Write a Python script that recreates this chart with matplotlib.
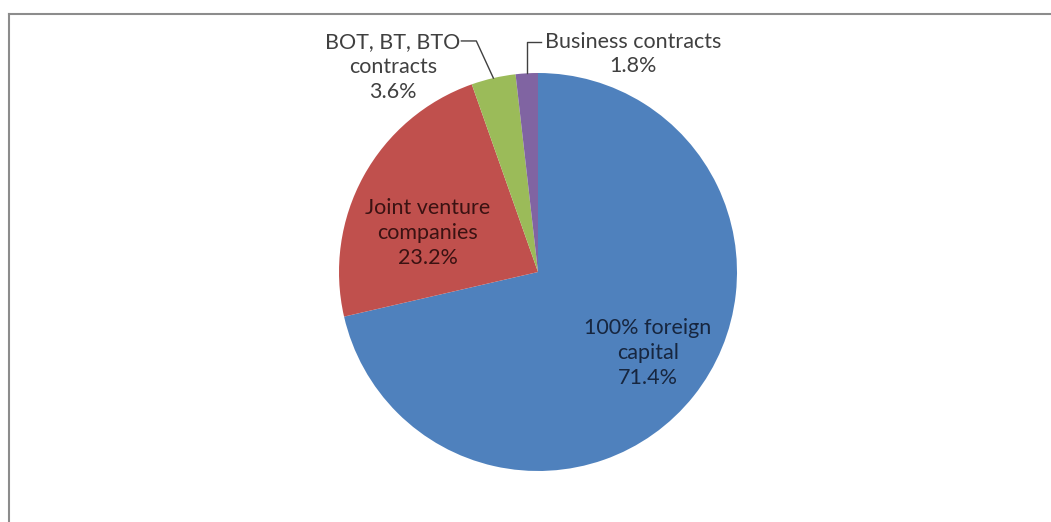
import numpy as np
import matplotlib.pyplot as plt
from matplotlib.lines import Line2D

plt.rcParams['font.family'] = ['Lato', 'DejaVu Sans']

# data
categories = ['100% foreign\ncapital', 'Joint venture\ncompanies', 'BOT, BT, BTO\ncontracts', 'Business contracts']
shares = [71.4, 23.2, 3.6, 1.8]
colors = ['#4F81BD', '#C0504D', '#9BBB59', '#8064A2']

fig = plt.figure(figsize=(10.51, 5.22), dpi=100)
ax = fig.add_axes([339 / 1051, 51 / 522, 398 / 1051, 398 / 522])

wedges, _ = ax.pie(shares, colors=colors, startangle=90, counterclock=False,
                   wedgeprops=dict(linewidth=0))
ax.set_xlim(-1, 1)
ax.set_ylim(-1, 1)
ax.axis('off')

# label positions (axes data units, pie radius = 1)
label_pos = [(0.553, -0.407), (-0.553, 0.196), (-0.73, 1.03), (0.477, 1.095)]
text_colors = ['#17263f', '#3a1212', '#404040', '#404040']

for i, (cat, val) in enumerate(zip(categories, shares)):
    x, y = label_pos[i]
    ax.text(x, y, f'{cat}\n{val}%', ha='center', va='center', fontsize=15.5,
            linespacing=1.3, color=text_colors[i], clip_on=False)

# leader lines for the two small slices
def edge_point(w):
    mid = np.deg2rad((w.theta1 + w.theta2) / 2)
    return np.cos(mid), np.sin(mid)

gx, gy = edge_point(wedges[2])
ax.plot([-0.385, -0.31, gx], [1.161, 1.161, gy], color='#404040', lw=1, clip_on=False)
px, py = edge_point(wedges[3])
ax.plot([px, px, 0.015], [py, 1.155, 1.155], color='#404040', lw=1, clip_on=False)

# chart area border
fig.add_artist(Line2D([9 / 1051, 1], [1 - 14 / 522, 1 - 14 / 522], color='#8c8c8c', lw=1.5))
fig.add_artist(Line2D([9 / 1051, 9 / 1051], [0, 1 - 14 / 522], color='#8c8c8c', lw=1.5))

fig.savefig('out.png', dpi=100)
